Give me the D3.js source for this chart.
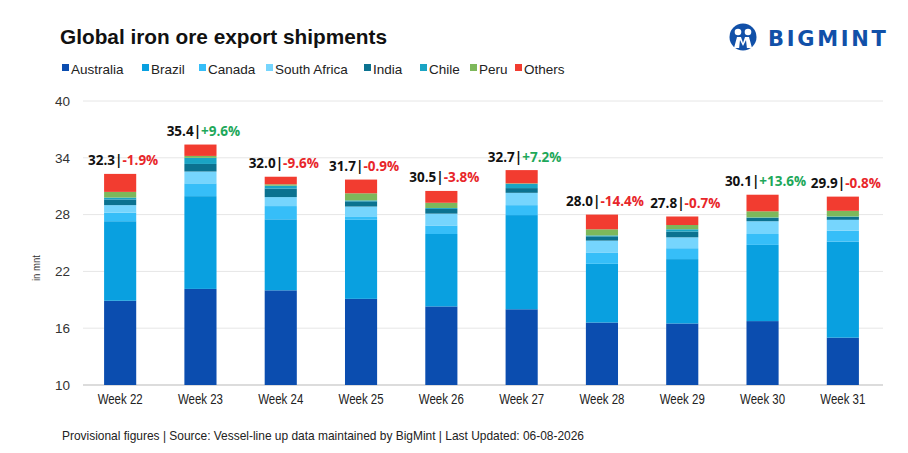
<!DOCTYPE html>
<html><head><meta charset="utf-8">
<script src="https://cdn.jsdelivr.net/npm/d3@7"></script>
<style>
html,body{margin:0;padding:0;background:#fff;}
svg{display:block;}
</style></head>
<body>
<svg id="chart" width="908" height="453"></svg>
<script>
const weeks = ["Week 22","Week 23","Week 24","Week 25","Week 26","Week 27","Week 28","Week 29","Week 30","Week 31"];
const seriesNames = ["Australia","Brazil","Canada","South Africa","India","Chile","Peru","Others"];
const australia   = [18.9, 20.15, 20.0, 19.1, 18.3, 18.0, 16.6, 16.5, 16.75, 15.0];
const brazil      = [8.4,  9.8,   7.5,  8.35, 7.65, 9.95, 6.2,  6.8,  8.05, 10.15];
const canada      = [0.9,  1.35,  1.4,  0.3,  0.9,  1.05, 1.2,  1.15, 1.15, 1.15];
const southAfrica = [0.8,  1.25,  0.95, 1.1,  1.25, 1.3,  1.25, 1.15, 1.35, 1.15];
const india       = [0.6,  0.8,   0.9,  0.55, 0.5,  0.5,  0.45, 0.6,  0.35, 0.3];
const chile       = [0.2,  0.65,  0.3,  0.1,  0.1,  0.45, 0.1,  0.25, 0.05, 0.05];
const peru        = [0.6,  0.2,   0.15, 0.75, 0.55, 0.05, 0.65, 0.45, 0.65, 0.6];
const others      = [1.9,  1.2,   0.8,  1.45, 1.25, 1.4,  1.55, 0.9,  1.75, 1.5];
const totals      = [32.3, 35.4, 32.0, 31.7, 30.5, 32.7, 28.0, 27.8, 30.1, 29.9];
const changes     = ["-1.9%","+9.6%","-9.6%","-0.9%","-3.8%","+7.2%","-14.4%","-0.7%","+13.6%","-0.8%"];
const yTicks      = [10, 16, 22, 28, 34, 40];

const colors = ["#0B4DAF","#09A0E0","#36BEF8","#76D5FD","#0B7290","#1AA4C4","#7DB85B","#F23C30"];
const seriesData = [australia, brazil, canada, southAfrica, india, chile, peru, others];

const rows = weeks.map((w,i)=>{
  const r = {week:w};
  seriesNames.forEach((s,j)=>{ r[s] = seriesData[j][i]; });
  return r;
});

const svg = d3.select("#chart");
const plotL = 80, plotR = 883, plotT = 101, plotB = 385;

const x = d3.scaleBand().domain(weeks).range([plotL, plotR]).paddingInner(0.6).paddingOuter(0.3);
const y = d3.scaleLinear().domain([10, 40]).range([plotB, plotT]);

// title
svg.append("text").attr("x", 60).attr("y", 44)
  .attr("font-family", "Liberation Sans, Arial, sans-serif")
  .attr("font-weight", "bold").attr("font-size", 20.8).attr("fill", "#111")
  .text("Global iron ore export shipments");

// logo
const logo = svg.append("g").attr("transform", "translate(743,37)");
logo.append("circle").attr("r", 13.5).attr("fill", "#1150A8");
logo.append("circle").attr("cx", -5).attr("cy", -5).attr("r", 3.3).attr("fill", "#fff");
logo.append("circle").attr("cx", 5).attr("cy", -5).attr("r", 3.3).attr("fill", "#fff");
logo.append("path").attr("d", "M-9,11 L-6,0 L-2,0 L0,6 L2,0 L6,0 L9,11 Z").attr("fill", "#fff");
logo.append("path").attr("d", "M-4,12 L-3,3 L0,9 L3,3 L4,12 Z").attr("fill", "#1150A8");
svg.append("text").attr("x", 768).attr("y", 45.5)
  .attr("font-family", "DejaVu Sans, Liberation Sans, sans-serif")
  .attr("font-weight", "bold").attr("font-size", 21).attr("letter-spacing", 2.7)
  .attr("fill", "#1150A8").text("BIGMINT");

// legend
const legendX = [62, 142, 199, 266, 364, 420, 470, 515];
const legend = svg.append("g");
seriesNames.forEach((s,i)=>{
  const g = legend.append("g").attr("transform", `translate(${legendX[i]},69)`);
  g.append("rect").attr("x", 0).attr("y", -5).attr("width", 7).attr("height", 7).attr("fill", colors[i]);
  g.append("text").attr("x", 9).attr("y", 4.5)
    .attr("font-family", "Liberation Sans, Arial, sans-serif")
    .attr("font-size", 13.5).attr("fill", "#222").text(s);
});

// gridlines
svg.append("g").selectAll("line").data(yTicks).join("line")
  .attr("x1", plotL + 3).attr("x2", plotR)
  .attr("y1", d=>y(d)).attr("y2", d=>y(d))
  .attr("stroke", d=> d===10 ? "#d0d0d0" : "#e6e6e6").attr("stroke-width", d=> d===10 ? 1.5 : 1);

// y axis labels
const yAxis = d3.axisLeft(y).tickValues(yTicks).tickSize(0).tickPadding(0);
const yg = svg.append("g").attr("transform", `translate(${plotL - 10},0)`).call(yAxis);
yg.select(".domain").remove();
yg.selectAll("text").attr("font-family", "Liberation Sans, Arial, sans-serif").attr("font-size", 13.5).attr("fill", "#333");

svg.append("text").attr("transform", "translate(40,268) rotate(-90)")
  .attr("text-anchor", "middle").attr("font-family", "Liberation Sans, sans-serif")
  .attr("font-size", 10).attr("textLength", 26).attr("lengthAdjust", "spacingAndGlyphs")
  .attr("fill", "#333").text("in mnt");

// stacked bars
const stack = d3.stack().keys(seriesNames);
const stacked = stack(rows);
const clampY = v => y(Math.max(10, Math.min(40, v)));
svg.append("g").selectAll("g").data(stacked).join("g")
  .attr("fill", (d,i)=>colors[i])
  .selectAll("rect").data(d=>d).join("rect")
  .attr("x", d=>x(d.data.week))
  .attr("width", x.bandwidth())
  .attr("y", d=>clampY(d[1]))
  .attr("height", d=>Math.max(0, clampY(d[0]) - clampY(d[1])));

// x axis labels
const xAxis = d3.axisBottom(x).tickSize(0).tickPadding(0);
const xg = svg.append("g").attr("transform", `translate(0,${plotB + 19})`).call(xAxis);
xg.select(".domain").remove();
xg.selectAll("text").attr("font-family", "Liberation Sans, sans-serif")
  .attr("font-size", 14).attr("fill", "#222").attr("dy", 0)
  .attr("textLength", 45).attr("lengthAdjust", "spacingAndGlyphs");

// data labels
const lbl = svg.append("g").selectAll("text").data(weeks).join("text")
  .attr("x", w=>x(w) + x.bandwidth()/2 + 3)
  .attr("y", (w,i)=>y(totals[i]) - 8.5)
  .attr("text-anchor", "middle")
  .attr("font-family", "Open Sans, Liberation Sans, sans-serif")
  .attr("font-weight", "bold").attr("font-size", 13.5);
lbl.append("tspan").attr("fill", "#111").text((w,i)=>totals[i].toFixed(1) + "|");
lbl.append("tspan").attr("fill", (w,i)=>changes[i].startsWith("+") ? "#1EA85A" : "#E8262A").text((w,i)=>changes[i]);

// footer
svg.append("text").attr("x", 62).attr("y", 440)
  .attr("font-family", "Liberation Sans, sans-serif")
  .attr("font-size", 13.5).attr("fill", "#222")
  .attr("textLength", 522).attr("lengthAdjust", "spacingAndGlyphs")
  .text("Provisional figures | Source: Vessel-line up data maintained by BigMint | Last Updated: 06-08-2026");
</script>
</body></html>
